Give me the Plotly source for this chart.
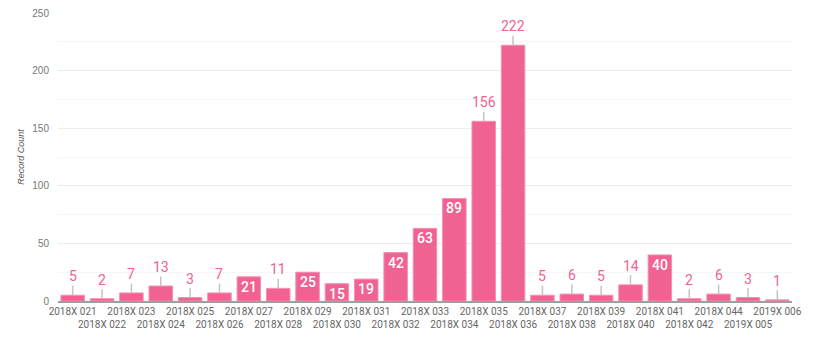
import plotly.graph_objects as go

categories = [
    "2018X 021", "2018X 022", "2018X 023", "2018X 024", "2018X 025",
    "2018X 026", "2018X 027", "2018X 028", "2018X 029", "2018X 030",
    "2018X 031", "2018X 032", "2018X 033", "2018X 034", "2018X 035",
    "2018X 036", "2018X 037", "2018X 038", "2018X 039", "2018X 040",
    "2018X 041", "2018X 042", "2018X 044", "2019X 005", "2019X 006",
]
record_counts = [5, 2, 7, 13, 3, 7, 21, 11, 25, 15, 19, 42, 63, 89, 156,
                 222, 5, 6, 5, 14, 40, 2, 6, 3, 1]
# categories whose value label sits inside the bar (the rest get a callout above)
inside_label_cats = {"2018X 027", "2018X 029", "2018X 030", "2018X 031",
                     "2018X 032", "2018X 033", "2018X 034", "2018X 041"}

BAR = "#f06292"
LABEL = "#f06292"
FONT = "Roboto"
AXIS_FONT = "Liberation Sans, Arial, sans-serif"

# staggered tick labels: every second category drops to a second row
tick_text = [c if i % 2 == 0 else "\u00a0<br>" + c for i, c in enumerate(categories)]

fig = go.Figure(go.Bar(
    x=categories, y=record_counts,
    marker=dict(color=BAR, line=dict(color="#f48fb1", width=1)),
    hoverinfo="x+y",
))

annotations = []
for c, v in zip(categories, record_counts):
    if c in inside_label_cats:
        annotations.append(dict(
            x=c, y=v, text=str(v), showarrow=False, yshift=-10,
            font=dict(family=FONT, size=14, color="white", weight=500),
        ))
    else:
        annotations.append(dict(
            x=c, y=v, text=str(v), showarrow=True, arrowhead=0,
            arrowwidth=1.5, arrowcolor="#c4c4c4", ax=0, ay=-19,
            standoff=0, startstandoff=0,
            font=dict(family=FONT, size=14, color=LABEL),
        ))

fig.update_layout(
    width=816, height=339,
    margin=dict(l=58, r=24, t=13, b=38),
    paper_bgcolor="white", plot_bgcolor="white",
    bargap=0.2,
    showlegend=False,
    font=dict(family=FONT, color="#666"),
    annotations=annotations,
    xaxis=dict(
        tickmode="array", tickvals=categories, ticktext=tick_text,
        tickangle=0, tickfont=dict(size=10, color="#666"),
        showline=True, linecolor="#9e9e9e", linewidth=2,
        showgrid=False, ticks="", automargin=False,
    ),
    yaxis=dict(
        range=[0, 250], dtick=50, showgrid=True, gridcolor="#ececec",
        gridwidth=1, zeroline=False, automargin=False,
        tickfont=dict(family=AXIS_FONT, size=10, color="#777"),
        ticklabelstandoff=8,
        minor=dict(dtick=25, showgrid=True, gridcolor="#f6f6f6"),
        title=dict(text="<i>Record Count</i>", standoff=6,
                   font=dict(family=AXIS_FONT, size=9, color="#555")),
    ),
)

fig.write_html("out.html")
